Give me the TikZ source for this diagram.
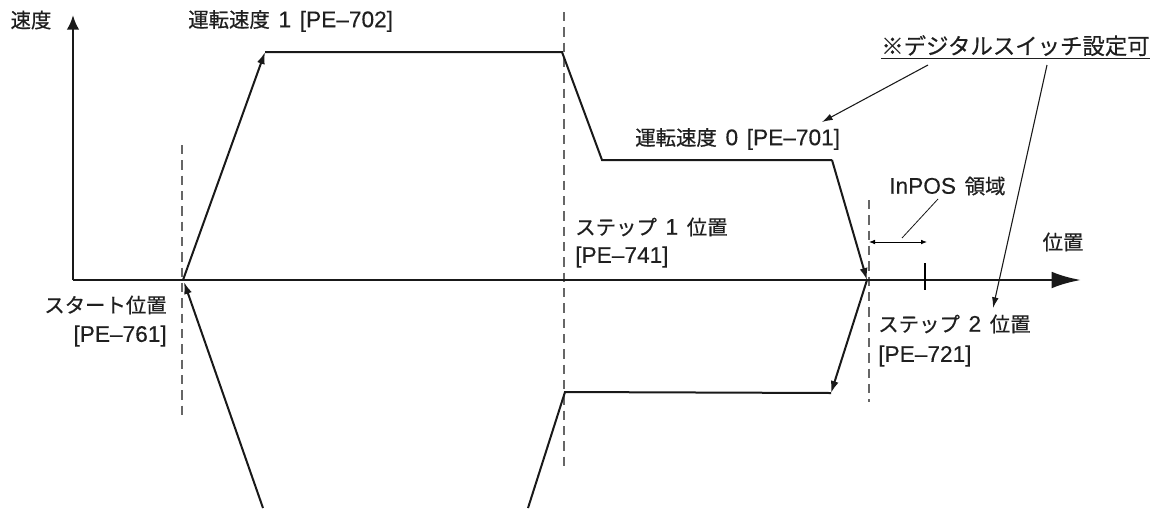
\documentclass[tikz,border=0pt]{standalone}
\usepackage{fontspec}
\setmainfont{Liberation Sans}
\newfontfamily\jpfont[FakeBold=0.5]{Noto Sans CJK JP}
\newfontfamily\ltfont[FakeBold=0.3]{Liberation Sans}
\newcommand\LT[1]{{\ltfont\fontsize{17}{19}\selectfont #1}}
\newcommand\SP{\hspace{6.5pt}}
\usetikzlibrary{arrows.meta}
\begin{document}
\begin{tikzpicture}[x=0.75pt,y=-0.75pt,
  lbl/.style={inner sep=0pt, font=\jpfont\fontsize{15.3}{18}\selectfont, text=black!88},
  prof/.style={line width=1.5pt, black!90},
  axisline/.style={line width=2pt, black!90},
  guide/.style={line width=1.1pt, black!60, dash pattern=on 7pt off 4.5pt},
  lead/.style={line width=0.8pt, black!90},
  arr/.style={-{Latex[length=9pt,width=6pt]}},
  larr/.style={-{Latex[length=8pt,width=5pt]}}]
\useasboundingbox (0,0) rectangle (1153,508);

% coordinates
\coordinate (O) at (73,280);
\coordinate (Ytop) at (73,15);
\coordinate (Xend) at (1081,280);
\coordinate (A) at (183,280);
\coordinate (B) at (265,52);
\coordinate (C) at (562,52);
\coordinate (D) at (602,160);
\coordinate (E) at (832,160);
\coordinate (F) at (867,280);
\coordinate (G) at (831,393);
\coordinate (H) at (565,392);
\coordinate (I) at (528,508);
\coordinate (J) at (263,508);
\coordinate (K) at (184,282);
\coordinate (g1t) at (182,145);
\coordinate (g1b) at (182,415);
\coordinate (g2t) at (564,12);
\coordinate (g2b) at (564,468);
\coordinate (g3t) at (869,200);
\coordinate (g3b) at (869,402);
\coordinate (tickt) at (925,263);
\coordinate (tickb) at (925,290);
\coordinate (ipl) at (869,242);
\coordinate (ipr) at (927,242);
\coordinate (ipa) at (902,238);
\coordinate (ipb) at (938,199);
\coordinate (n1s) at (928,65);
\coordinate (n1e) at (822,122);
\coordinate (n2s) at (1047,65);
\coordinate (n2e) at (993,308);

% guides
\draw[guide] (g1t) -- (g1b);
\draw[guide] (g2t) -- (g2b);
\draw[guide] (g3t) -- (g3b);

% axes
\draw[axisline,-{Latex[length=11pt,width=9.5pt]}] (O) -- (Ytop);
\draw[axisline,line width=2.2pt,-{Latex[length=22pt,width=12.5pt]}] (O) -- (Xend);
\draw[line width=1.1pt] (tickt) -- (tickb);

% profile
\draw[prof,arr] (A) -- (B);
\draw[prof] (B) -- (C) -- (D) -- (E);
\draw[prof,arr] (E) -- (F);
\draw[prof,arr] (F) -- (G);
\draw[prof] (G) -- (H) -- (I);
\draw[prof,arr] (J) -- (K);

% InPOS
\draw[line width=0.6pt,{Latex[length=4.5pt,width=3.5pt]}-{Latex[length=4.5pt,width=3.5pt]}] (ipl) -- (ipr);
\draw[lead,line width=0.6pt] (ipa) -- (ipb);

% labels
\node[lbl] (vlab) at (31,20) {速度};
\node[lbl,anchor=west] (v1) at (188,21) {運転速度\SP\LT{1}\SP\LT{[PE–702]}};
\node[lbl,anchor=west] (v0) at (635,139) {運転速度\SP\LT{0}\SP\LT{[PE–701]}};
\node[lbl,anchor=west] (note) at (881,47) {\fontsize{16.8}{19}\selectfont\underline{※デジタルスイッチ設定可}};
\node[lbl,anchor=west] (inpos) at (889,186) {\LT{InPOS}\SP 領域};
\node[lbl,anchor=west] (s1) at (575,227) {ステップ\SP\LT{1}\SP 位置};
\node[lbl,anchor=west] (s1p) at (575,257) {\LT{[PE–741]}};
\node[lbl,anchor=west] (s2) at (878,324) {ステップ\SP\LT{2}\SP 位置};
\node[lbl,anchor=west] (s2p) at (878,356) {\LT{[PE–721]}};
\node[lbl,anchor=east] (st) at (167,305) {スタート位置};
\node[lbl,anchor=east] (stp) at (167,336) {\LT{[PE–761]}};
\node[lbl] (xlab) at (1063,242) {位置};

% leaders from note
\draw[lead,larr] (n1s) -- (n1e);
\draw[lead,larr] (n2s) -- (n2e);
\end{tikzpicture}
\end{document}
